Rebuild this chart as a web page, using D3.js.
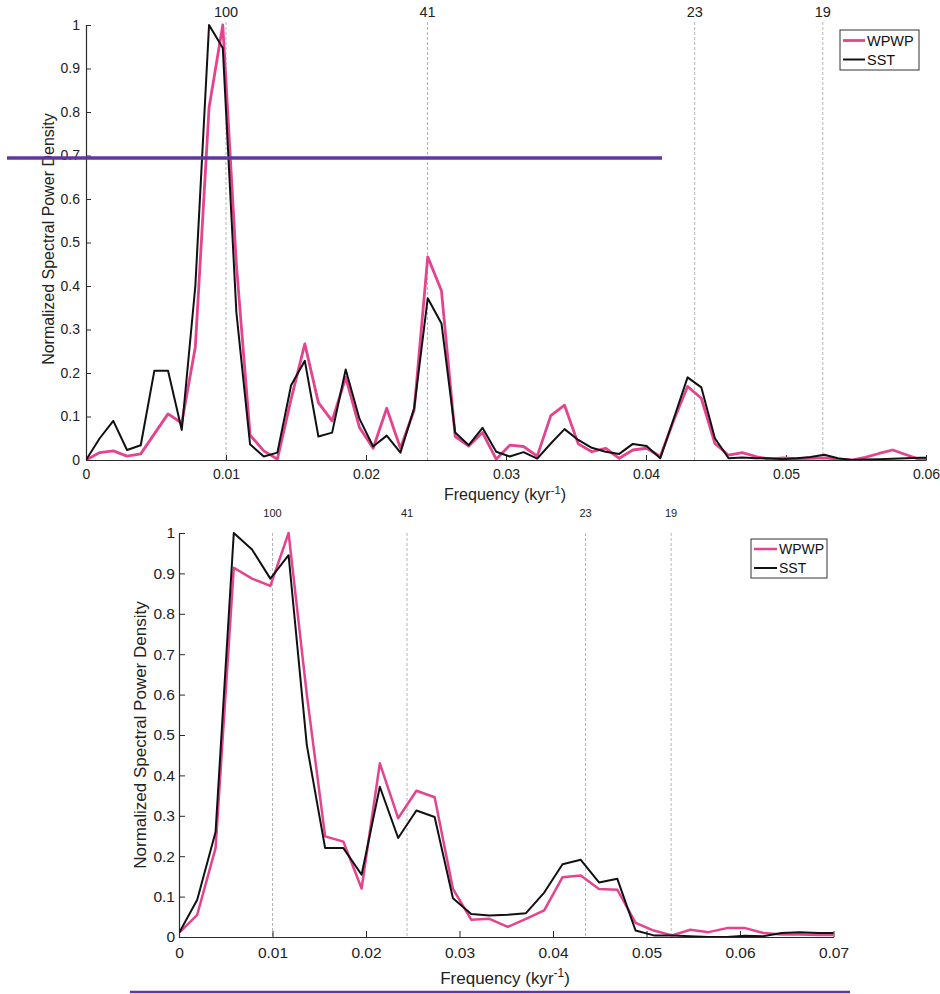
<!DOCTYPE html>
<html>
<head>
<meta charset="utf-8">
<script src="https://cdn.jsdelivr.net/npm/d3@7/dist/d3.min.js"></script>
<style>
  body { margin: 0; background: #fff; }
  svg { display: block; font-family: "Liberation Sans", Arial, Helvetica, sans-serif; }
</style>
</head>
<body>
<div id="graphContainer"></div>
<script>
// frequency grid of each spectrum (kyr^-1)
var freqTop = [0, 0.00098, 0.00195, 0.00293, 0.00391, 0.00488, 0.00586, 0.00684, 0.00781, 0.00879,
    0.00977, 0.01074, 0.01172, 0.0127, 0.01367, 0.01465, 0.01563, 0.0166, 0.01758, 0.01855,
    0.01953, 0.02051, 0.02148, 0.02246, 0.02344, 0.02441, 0.02539, 0.02637, 0.02734, 0.02832,
    0.0293, 0.03027, 0.03125, 0.03223, 0.0332, 0.03418, 0.03516, 0.03613, 0.03711, 0.03809,
    0.03906, 0.04004, 0.04102, 0.04199, 0.04297, 0.04395, 0.04492, 0.0459, 0.04688, 0.04785,
    0.04883, 0.0498, 0.05078, 0.05176, 0.05273, 0.05371, 0.05469, 0.05566, 0.05664, 0.05762,
    0.05859, 0.05957, 0.06055];

var wpwpTop = [0, 0.017, 0.021, 0.009, 0.014, 0.06, 0.106, 0.085, 0.26, 0.81,
    1.0, 0.45, 0.057, 0.021, 0.002, 0.14, 0.267, 0.132, 0.09, 0.19,
    0.075, 0.027, 0.119, 0.027, 0.115, 0.467, 0.389, 0.054, 0.032, 0.063,
    0.002, 0.034, 0.031, 0.009, 0.102, 0.126, 0.037, 0.019, 0.027, 0.004,
    0.023, 0.027, 0.008, 0.092, 0.169, 0.142, 0.038, 0.011, 0.017, 0.008,
    0.002, 0.005, 0.003, 0.004, 0.005, 0.002, 0, 0.006, 0.015, 0.023,
    0.012, 0.001, 0];

var sstTop = [0, 0.05, 0.09, 0.023, 0.034, 0.205, 0.205, 0.069, 0.40, 1.0,
    0.947, 0.34, 0.036, 0.008, 0.017, 0.172, 0.228, 0.054, 0.063, 0.208,
    0.095, 0.031, 0.056, 0.017, 0.119, 0.372, 0.314, 0.063, 0.034, 0.074,
    0.019, 0.008, 0.018, 0.003, 0.038, 0.071, 0.046, 0.028, 0.019, 0.014,
    0.037, 0.032, 0.004, 0.096, 0.19, 0.167, 0.05, 0.004, 0.006, 0.004,
    0.004, 0.002, 0.004, 0.007, 0.012, 0.004, 0, 0.001, 0.002, 0.003,
    0.004, 0.005, 0.005];

var freqBottom = [0, 0.00195, 0.00391, 0.00586, 0.00781, 0.00977, 0.01172, 0.01367, 0.01563, 0.01758,
    0.01953, 0.02148, 0.02344, 0.02539, 0.02734, 0.0293, 0.03125, 0.0332, 0.03516, 0.03711,
    0.03906, 0.04102, 0.04297, 0.04492, 0.04688, 0.04883, 0.05078, 0.05273, 0.05469, 0.05664,
    0.05859, 0.06055, 0.0625, 0.06445, 0.06641, 0.06836, 0.07031];

var wpwpBottom = [0.01, 0.055, 0.22, 0.914, 0.887, 0.869, 1.0, 0.6, 0.249, 0.236,
    0.12, 0.43, 0.294, 0.362, 0.346, 0.119, 0.043, 0.045, 0.025, 0.045,
    0.066, 0.148, 0.152, 0.119, 0.117, 0.035, 0.016, 0.004, 0.018, 0.012,
    0.022, 0.022, 0.01, 0.006, 0.006, 0.005, 0.005];

var sstBottom = [0.01, 0.092, 0.26, 1.0, 0.959, 0.887, 0.945, 0.475, 0.22, 0.22,
    0.154, 0.372, 0.245, 0.313, 0.297, 0.096, 0.057, 0.053, 0.055, 0.059,
    0.11, 0.18, 0.191, 0.135, 0.144, 0.016, 0.004, 0.004, 0.002, 0,
    0, 0.003, 0.002, 0.01, 0.012, 0.01, 0.01];

// orbital periods (kyr) marked along the top
var periods = [100, 41, 23, 19];
var seriesNames = ["WPWP", "SST"];
var seriesColors = ["#e6438f", "#111111"];

var width = 940, height = 994;
var axisColor = "#2b2b2b";

var svg = d3.select("#graphContainer").append("svg")
    .attr("width", width)
    .attr("height", height);

function drawPanel(p) {
    var x = d3.scaleLinear().domain([0, p.xMax]).range([p.left, p.right]);
    var y = d3.scaleLinear().domain([0, 1]).range([p.bottom, p.top]);
    var g = svg.append("g");

    g.append("clipPath").attr("id", "clip" + p.id)
        .append("rect")
        .attr("x", p.left).attr("y", p.top - 10)
        .attr("width", p.right - p.left).attr("height", p.bottom - p.top + 10);

    // dashed period lines + labels
    periods.forEach(function (per) {
        var px = x(1 / per);
        g.append("line")
            .attr("x1", px).attr("x2", px)
            .attr("y1", y(1) - p.dashExtra).attr("y2", y(0))
            .attr("stroke", "#b5b5b5")
            .attr("stroke-width", 1)
            .attr("stroke-dasharray", "3,2");
        g.append("text")
            .attr("x", px).attr("y", p.periodY)
            .attr("text-anchor", "middle")
            .attr("font-size", p.periodFont)
            .attr("fill", "#222")
            .text(per);
    });

    // axes, ticks pointing inwards
    var xAxis = d3.axisBottom(x)
        .tickValues(d3.range(0, p.xMax + 0.0001, 0.01))
        .tickFormat(function (d) { return d === 0 ? "0" : d3.format(".2f")(d); })
        .tickSizeInner(-p.tick).tickSizeOuter(0).tickPadding(p.xPad);
    var yAxis = d3.axisLeft(y)
        .tickValues(d3.range(0, 1.0001, 0.1))
        .tickFormat(function (d) { return d === 0 ? "0" : d3.format(".1~f")(d); })
        .tickSizeInner(-p.tick).tickSizeOuter(0).tickPadding(p.yPad);

    var gx = g.append("g").attr("transform", "translate(0," + p.bottom + ")").call(xAxis);
    var gy = g.append("g").attr("transform", "translate(" + p.left + ",0)").call(yAxis);
    [gx, gy].forEach(function (a) {
        a.select(".domain").attr("stroke", axisColor).attr("stroke-width", 1.2);
        a.selectAll(".tick line").attr("stroke", axisColor);
        a.selectAll(".tick text").attr("fill", "#222").attr("font-size", p.tickFont).attr("font-family", null);
    });

    // spectra
    var line = d3.line()
        .x(function (d) { return x(d[0]); })
        .y(function (d) { return y(d[1]); });
    var lines = g.append("g").attr("clip-path", "url(#clip" + p.id + ")");
    [p.wpwp, p.sst].forEach(function (vals, i) {
        lines.append("path")
            .datum(p.freq.map(function (f, j) { return [f, vals[j]]; }))
            .attr("d", line)
            .attr("fill", "none")
            .attr("stroke", seriesColors[i])
            .attr("stroke-width", i === 0 ? p.pinkW : p.blackW)
            .attr("stroke-linejoin", "round");
    });

    // axis titles
    var xt = g.append("text")
        .attr("x", p.xTitleX).attr("y", p.xTitleY)
        .attr("text-anchor", "middle")
        .attr("font-size", p.titleFont)
        .attr("fill", "#222");
    xt.append("tspan").text("Frequency (kyr");
    xt.append("tspan").attr("dy", -p.titleFont * 0.4).attr("font-size", p.titleFont * 0.7).text("-1");
    xt.append("tspan").attr("dy", p.titleFont * 0.4).text(")");

    g.append("text")
        .attr("transform", "translate(" + p.yTitleX + "," + p.yTitleY + ") rotate(-90)")
        .attr("text-anchor", "middle")
        .attr("font-size", p.titleFont)
        .attr("fill", "#222")
        .text("Normalized Spectral Power Density");

    // legend
    var lg = g.append("g");
    lg.append("rect")
        .attr("x", p.leg.x).attr("y", p.leg.y)
        .attr("width", p.leg.w).attr("height", p.leg.h)
        .attr("fill", "#fff").attr("stroke", "#333").attr("stroke-width", 1);
    seriesNames.forEach(function (name, i) {
        var ly = p.leg.y + p.leg.row0 + i * p.leg.rowH;
        lg.append("line")
            .attr("x1", p.leg.x + 3).attr("x2", p.leg.x + 3 + p.leg.sw)
            .attr("y1", ly).attr("y2", ly)
            .attr("stroke", seriesColors[i]).attr("stroke-width", i === 0 ? p.pinkW : p.blackW);
        lg.append("text")
            .attr("x", p.leg.x + 5 + p.leg.sw).attr("y", ly)
            .attr("dy", "0.36em")
            .attr("font-size", p.leg.font)
            .attr("fill", "#111")
            .text(name);
    });
}

drawPanel({
    id: "top", freq: freqTop, wpwp: wpwpTop, sst: sstTop, xMax: 0.06,
    left: 86, right: 926, top: 25, bottom: 460,
    tick: 5, xPad: 9, yPad: 6, tickFont: 14, titleFont: 16,
    periodY: 17, periodFont: 14.5, dashExtra: 3,
    pinkW: 2.8, blackW: 2,
    xTitleX: 505, xTitleY: 500, yTitleX: 54, yTitleY: 239,
    leg: {x: 840, y: 30, w: 79, h: 40, row0: 10.5, rowH: 19, sw: 22, font: 14.5}
});

drawPanel({
    id: "bottom", freq: freqBottom, wpwp: wpwpBottom, sst: sstBottom, xMax: 0.07,
    left: 179, right: 833.5, top: 533, bottom: 937,
    tick: 6, xPad: 10, yPad: 4, tickFont: 15.5, titleFont: 17,
    periodY: 517, periodFont: 11, dashExtra: 0,
    pinkW: 2.5, blackW: 2,
    xTitleX: 505, xTitleY: 984, yTitleX: 146, yTitleY: 735,
    leg: {x: 751, y: 539, w: 76, h: 39, row0: 10, rowH: 19, sw: 23, font: 14}
});

// purple annotation strokes on the figure
svg.append("line").attr("x1", 7).attr("x2", 662).attr("y1", 158).attr("y2", 158)
    .attr("stroke", "#6236a0").attr("stroke-width", 3.5);
svg.append("line").attr("x1", 130).attr("x2", 850).attr("y1", 992).attr("y2", 992)
    .attr("stroke", "#6236a0").attr("stroke-width", 2.5);
</script>
</body>
</html>
